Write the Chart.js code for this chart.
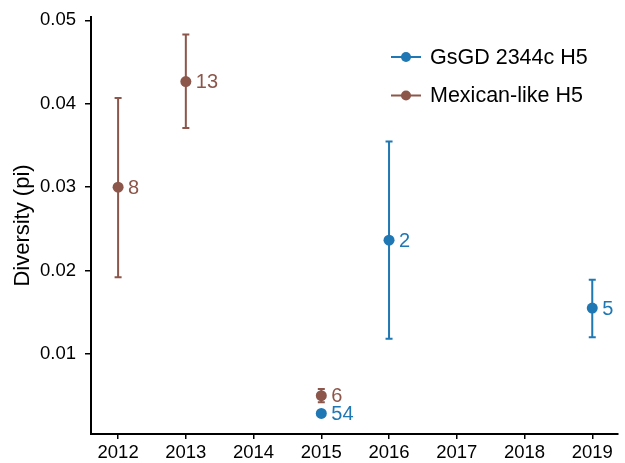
<!DOCTYPE html>
<html>
<head>
<meta charset="utf-8">
<script src="https://cdn.jsdelivr.net/npm/chart.js@4.4.1/dist/chart.umd.min.js"></script>
<style>
  html, body { margin: 0; padding: 0; background: #fff; }
  #wrap { width: 625px; height: 463px; }
</style>
</head>
<body>
<div id="wrap"><canvas id="chart" width="625" height="463"></canvas></div>
<script>
// GsGD 2344c H5
const gsgdYears = [2015, 2016, 2019];
const gsgdPi    = [0.00286, 0.02364, 0.0155];
const gsgdLow   = [0.0027, 0.01183, 0.0120];
const gsgdHigh  = [0.0030, 0.03548, 0.0189];
const gsgdN     = [54, 2, 5];

// Mexican-like H5
const mexYears = [2012, 2013, 2015];
const mexPi    = [0.0300, 0.04266, 0.0050];
const mexLow   = [0.0192, 0.0371, 0.0042];
const mexHigh  = [0.0407, 0.0483, 0.0058];
const mexN     = [8, 13, 6];

const xTicks = [2012, 2013, 2014, 2015, 2016, 2017, 2018, 2019];
const yTicks = [0.01, 0.02, 0.03, 0.04, 0.05];

const BLUE = '#1f77b4';
const BROWN = '#8c564b';
const FONT = "'Liberation Sans', Arial, Helvetica, sans-serif";

function toPoints(xs, ys, lo, hi, n) {
    return xs.map((x, i) => ({ x: x, y: ys[i], lo: lo[i], hi: hi[i], n: n[i] }));
}

// error bars go under the points
const errorBars = {
    id: 'errorBars',
    beforeDatasetsDraw(chart) {
        const ctx = chart.ctx;
        const xs = chart.scales.x, ys = chart.scales.y;
        chart.data.datasets.forEach(ds => {
            ctx.save();
            ctx.strokeStyle = ds.borderColor;
            ctx.lineWidth = 2;
            ds.data.forEach(p => {
                const px = xs.getPixelForValue(p.x);
                const yTop = ys.getPixelForValue(p.hi);
                const yBot = ys.getPixelForValue(p.lo);
                ctx.beginPath();
                ctx.moveTo(px, yTop); ctx.lineTo(px, yBot);
                ctx.moveTo(px - 3.5, yTop); ctx.lineTo(px + 3.5, yTop);
                ctx.moveTo(px - 3.5, yBot); ctx.lineTo(px + 3.5, yBot);
                ctx.stroke();
            });
            ctx.restore();
        });
    },
    afterDatasetsDraw(chart) {
        // sample size labels
        const ctx = chart.ctx;
        const xs = chart.scales.x, ys = chart.scales.y;
        chart.data.datasets.forEach(ds => {
            ctx.save();
            ctx.fillStyle = ds.borderColor;
            ctx.font = '20px ' + FONT;
            ctx.textAlign = 'left';
            ctx.textBaseline = 'middle';
            ds.data.forEach(p => {
                ctx.fillText(String(p.n), xs.getPixelForValue(p.x) + 10, ys.getPixelForValue(p.y) + 1);
            });
            ctx.restore();
        });
    },
    afterDraw(chart) {
        // legend: line with a dot, top right
        const ctx = chart.ctx;
        chart.data.datasets.forEach((ds, i) => {
            const y = 57 + i * 38.5;
            ctx.save();
            ctx.strokeStyle = ds.borderColor;
            ctx.fillStyle = ds.borderColor;
            ctx.lineWidth = 2;
            ctx.beginPath();
            ctx.moveTo(391, y); ctx.lineTo(421, y);
            ctx.stroke();
            ctx.beginPath();
            ctx.arc(406, y, 5, 0, Math.PI * 2);
            ctx.fill();
            ctx.fillStyle = '#000';
            ctx.font = '21.5px ' + FONT;
            ctx.textAlign = 'left';
            ctx.textBaseline = 'middle';
            ctx.fillText(ds.label, 430, y + 1);
            ctx.restore();
        });
    }
};

new Chart(document.getElementById('chart'), {
    type: 'scatter',
    data: {
        datasets: [
            {
                label: 'GsGD 2344c H5',
                data: toPoints(gsgdYears, gsgdPi, gsgdLow, gsgdHigh, gsgdN),
                borderColor: BLUE,
                backgroundColor: BLUE,
                pointRadius: 5.5,
                pointBorderWidth: 0
            },
            {
                label: 'Mexican-like H5',
                data: toPoints(mexYears, mexPi, mexLow, mexHigh, mexN),
                borderColor: BROWN,
                backgroundColor: BROWN,
                pointRadius: 5.5,
                pointBorderWidth: 0
            }
        ]
    },
    options: {
        responsive: false,
        animation: false,
        layout: { padding: { top: 17, right: 7, left: 0, bottom: 0 } },
        plugins: {
            legend: { display: false },
            tooltip: { enabled: false }
        },
        scales: {
            x: {
                type: 'linear',
                min: 2011.6,
                max: 2019.38,
                afterBuildTicks: axis => { axis.ticks = xTicks.map(v => ({ value: v })); },
                afterFit: axis => { axis.height = 29; axis.paddingLeft = 0; axis.paddingRight = 0; },
                border: { color: '#000', width: 2 },
                grid: { drawOnChartArea: false, drawTicks: true, tickLength: 5, color: '#000', lineWidth: 1.5 },
                ticks: {
                    color: '#000',
                    font: { family: FONT, size: 18.5 },
                    padding: 3,
                    maxRotation: 0,
                    callback: v => String(v)
                }
            },
            y: {
                min: 0.0004,
                max: 0.0504,
                afterBuildTicks: axis => { axis.ticks = yTicks.map(v => ({ value: v })); },
                afterFit: axis => { axis.width = 91; axis.paddingTop = 0; axis.paddingBottom = 0; },
                border: { color: '#000', width: 2 },
                grid: { drawOnChartArea: false, drawTicks: true, tickLength: 6, color: '#000', lineWidth: 1.5 },
                title: {
                    display: true,
                    text: 'Diversity (pi)',
                    color: '#000',
                    font: { family: FONT, size: 22 },
                    padding: { top: 10, bottom: 0 }
                },
                ticks: {
                    color: '#000',
                    font: { family: FONT, size: 18.5 },
                    padding: 9,
                    callback: v => v.toFixed(2)
                }
            }
        }
    },
    plugins: [errorBars]
});
</script>
</body>
</html>
